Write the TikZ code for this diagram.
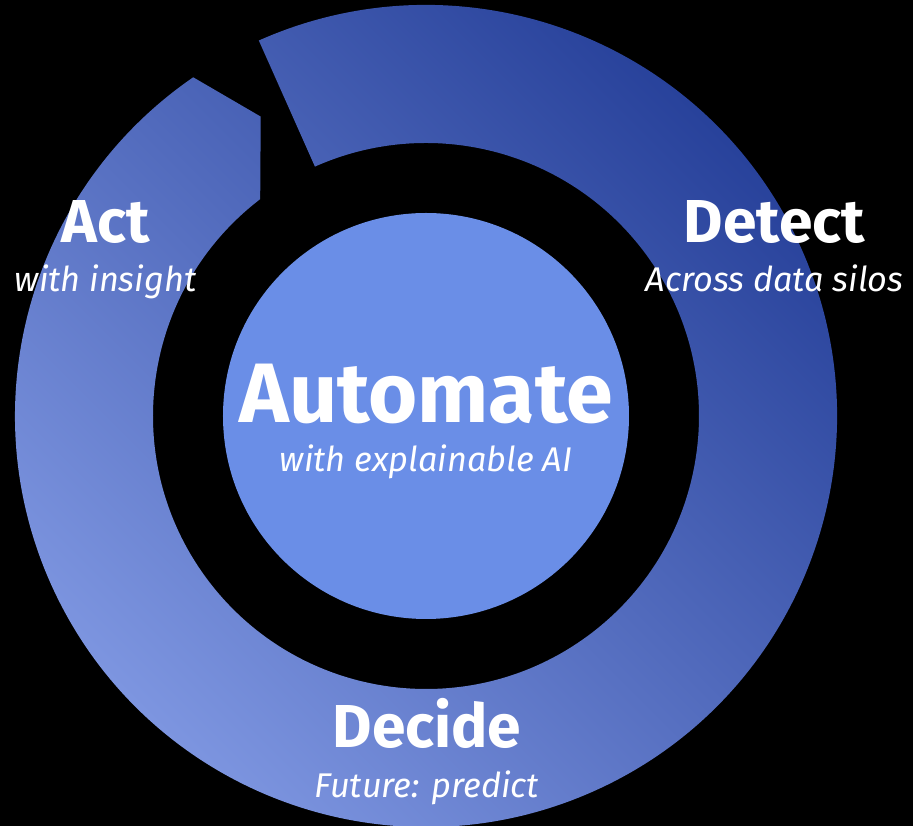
\documentclass[tikz,border=0pt]{standalone}
\usepackage{fontspec}
\setmainfont{Fira Sans}
\definecolor{ringdark}{RGB}{34,60,150}
\definecolor{ringlight}{RGB}{130,154,228}
\definecolor{core}{RGB}{106,142,231}
\tikzstyle{ring}=[top color=ringdark,bottom color=ringlight,shading angle=-45]
\tikzstyle{title}=[text=white,inner sep=0pt,anchor=base,font=\fontsize{34.5}{35}\selectfont\bfseries]
\tikzstyle{subtitle}=[text=white,inner sep=0pt,anchor=base,font=\fontsize{19.5}{20}\selectfont\itshape]
\newcommand{\drawcycle}[3]{
\pgfmathsetmacro{\rout}{#1}
\pgfmathsetmacro{\rin}{#2}
\pgfmathsetmacro{\rtip}{(#1+#2)/2}
\pgfmathsetmacro{\cut}{#3}
% open end at \cut, clockwise all the way round, pointed end just short of the cut
\shade[ring] (\cut:\rout) arc (\cut:\cut-349.5:\rout) -- (\cut-355.1:\rtip) -- (\cut-346.6:\rin) arc (\cut-346.6:\cut:\rin) -- cycle;
}

\begin{document}
\begin{tikzpicture}
\useasboundingbox (-8.52,-8.2) rectangle (9.74,8.32);
\fill[black] (-8.52,-8.2) rectangle (9.74,8.32);
\drawcycle{8.22}{5.46}{114} % outer radius, inner radius, angle of the gap
\fill[core] (0,0) circle (4.06);

\node[title] (act) at (-6.41,3.46) {Act};
\node[subtitle] (actsub) at ([yshift=-0.98cm]act.base) {with insight};
\node[title] (detect) at (6.97,3.46) {Detect};
\node[subtitle] (detectsub) at ([yshift=-0.98cm]detect.base) {Across data silos};
\node[title,font=\fontsize{48}{48}\selectfont\bfseries] (automate) at (0,-0.14) {Automate};
\node[subtitle] (automatesub) at ([yshift=-0.98cm]automate.base) {with explainable AI};
\node[title] (decide) at (0.02,-6.64) {Decide};
\node[subtitle] (decidesub) at ([yshift=-1cm]decide.base) {Future: predict};
\end{tikzpicture}
\end{document}
